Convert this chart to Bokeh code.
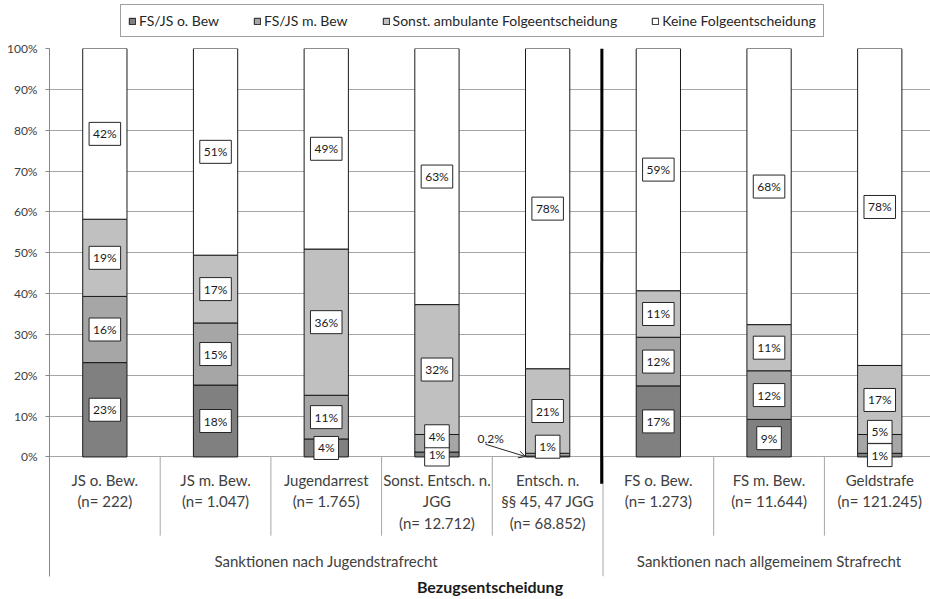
from bokeh.plotting import figure
from bokeh.models import (Range1d, FixedTicker, PrintfTickFormatter, ColumnDataSource,
                          Legend, LegendItem, Arrow, OpenHead)
from bokeh.layouts import column
from bokeh.embed import file_html
from bokeh.resources import INLINE
from bokeh.core.properties import value

# ---------------- data ----------------
categories = ["JS o. Bew.", "JS m. Bew.", "Jugendarrest", "Sonst. Entsch. n.\nJGG",
              "Entsch. n.\n§§ 45, 47 JGG", "FS o. Bew.", "FS m. Bew.", "Geldstrafe"]
n_labels = ["(n= 222)", "(n= 1.047)", "(n= 1.765)", "(n= 12.712)", "(n= 68.852)",
            "(n= 1.273)", "(n= 11.644)", "(n= 121.245)"]
groups = ["Sanktionen nach Jugendstrafrecht", "Sanktionen nach allgemeinem Strafrecht"]
group_sizes = [5, 3]
series = ["FS/JS o. Bew", "FS/JS m. Bew", "Sonst. ambulante Folgeentscheidung",
          "Keine Folgeentscheidung"]
fsjs_o = [23.1, 17.6, 4.4, 1.2, 0.2, 17.4, 9.2, 0.9]
fsjs_m = [16.2, 15.2, 10.7, 4.3, 0.7, 11.9, 11.9, 4.6]
sonst = [18.9, 16.6, 35.8, 31.8, 20.7, 11.4, 11.3, 16.9]
keine = [41.8, 50.6, 49.1, 62.7, 78.4, 59.3, 67.6, 77.6]
y_ticks = [0, 10, 20, 30, 40, 50, 60, 70, 80, 90, 100]
axis_title = "Bezugsentscheidung"

# ---------------- styling ----------------
FONT = "Lato"
TXT = "#404040"
GRID = "#a6a6a6"
colors = ["#808080", "#a6a6a6", "#c0c0c0", "#ffffff"]
label_nudge = {(3, 1): 7, (4, 1): 8, (7, 1): 12}   # labels moved up by hand (px)
callout = (4, 0)                                    # shown with an arrow instead

n = len(categories)
xs = [i + 0.5 for i in range(n)]
series_vals = [fsjs_o, fsjs_m, sonst, keine]
keys = ["s0", "s1", "s2", "s3"]
src = ColumnDataSource(dict(x=xs, s0=fsjs_o, s1=fsjs_m, s2=sonst, s3=keine))

W = 930
LEFT = 49
CAT_PX = 110.7
PLOT_PX = 410          # height of the 0..100 % band
AXIS_PX = 120          # category table under the bars
PXU = PLOT_PX / (y_ticks[-1] - y_ticks[0])
NAN = float("nan")


def below(px):
    return y_ticks[0] - px / PXU


# ---------------- legend strip ----------------
LH = 40
lf = figure(width=W, height=LH, x_range=Range1d(0, 1), y_range=Range1d(0, 1),
            output_backend="svg", toolbar_location=None,
            min_border_left=LEFT, min_border_right=0, min_border_bottom=0, min_border_top=0)
lf.outline_line_color = None
lf.xaxis.visible = False
lf.yaxis.visible = False
lf.grid.visible = False
# legend proxies: same styling as the bars, no drawable data
proxies = [lf.vbar(x=[NAN], bottom=[NAN], top=[NAN], width=0.1, fill_color=c,
                   line_color="#1a1a1a", line_width=1) for c in colors]
legend = Legend(items=[LegendItem(label=s, renderers=[r]) for s, r in zip(series, proxies)],
                orientation="horizontal", location=(71, 3),
                label_text_font=FONT, label_text_font_size="14px", label_text_color="#262626",
                glyph_width=8, glyph_height=8, label_standoff=3, spacing=34,
                padding=7, margin=0, border_line_color="#404040", border_line_width=1,
                background_fill_color="white", background_fill_alpha=1)
lf.add_layout(legend, "center")

# ---------------- main plot incl. category table ----------------
p = figure(width=W, height=PLOT_PX + AXIS_PX + 8 + 20,
           x_range=Range1d(0, (W - LEFT) / CAT_PX),
           y_range=Range1d(below(AXIS_PX), y_ticks[-1]),
           output_backend="svg", toolbar_location=None,
           min_border_left=LEFT, min_border_right=0, min_border_bottom=20, min_border_top=8)
p.outline_line_color = None
p.xgrid.visible = False
p.ygrid.ticker = FixedTicker(ticks=y_ticks)
p.ygrid.grid_line_color = GRID

ax = p.yaxis[0]
ax.ticker = FixedTicker(ticks=y_ticks)
ax.formatter = PrintfTickFormatter(format="%d%%")
ax.minor_tick_line_color = None
ax.major_tick_in = 0
ax.major_tick_out = 4
ax.major_label_standoff = 8
ax.major_label_text_font = FONT
ax.major_label_text_font_size = "12px"
ax.axis_line_color = "#868686"
ax.major_tick_line_color = "#868686"
ax.major_label_text_color = TXT

xa = p.xaxis[0]
xa.ticker = FixedTicker(ticks=[])
xa.axis_line_color = None
xa.major_tick_line_color = None
xa.minor_tick_line_color = None
xa.major_tick_out = 0
xa.major_label_standoff = 0
xa.axis_label = axis_title
xa.axis_label_standoff = 0
xa.axis_label_text_font = FONT
xa.axis_label_text_font_size = "16px"
xa.axis_label_text_font_style = "bold"
xa.axis_label_text_color = "#1a1a1a"

rs = p.vbar_stack(keys, x="x", width=0.4, source=src, fill_color=colors,
                  line_color="#1a1a1a", line_width=1)

# category table: dividers
bounds = [0]
for g in group_sizes:
    bounds.append(bounds[-1] + g)
cat_div = [k for k in range(1, n) if k not in bounds]
p.segment(x0=cat_div, y0=[y_ticks[0]] * len(cat_div), x1=cat_div,
          y1=[below(79)] * len(cat_div), line_color=GRID, line_width=1)
p.segment(x0=bounds[1:], y0=[y_ticks[0]] * (len(bounds) - 1), x1=bounds[1:],
          y1=[below(AXIS_PX)] * (len(bounds) - 1), line_color=GRID, line_width=1)

# thick hand-drawn line between the two groups
gb = group_sizes[0]
p.segment(x0=[gb - 0.01], y0=[y_ticks[-1]], x1=[gb - 0.012], y1=[below(27)],
          line_color="black", line_width=3)

# category labels
tx, ty, tt = [], [], []
for i, (c, nl) in enumerate(zip(categories, n_labels)):
    for k, line in enumerate(c.split("\n") + [nl]):
        tx.append(xs[i])
        ty.append(below(23 + 21.5 * k))
        tt.append(line)
p.text(x="x", y="y", text="t", source=ColumnDataSource(dict(x=tx, y=ty, t=tt)),
       text_align="center", text_baseline="middle", text_font=value(FONT),
       text_font_size="15px", text_color=TXT)
gx = [(bounds[k] + bounds[k + 1]) / 2 for k in range(len(groups))]
p.text(x=gx, y=[below(104)] * len(groups), text=groups, text_align="center",
       text_baseline="middle", text_font=value(FONT), text_font_size="15px", text_color=TXT)

# data labels
lx, ly, lt, lo = [], [], [], []
for i in range(n):
    base = 0.0
    for j, vals in enumerate(series_vals):
        v = vals[i]
        if (i, j) != callout:
            lx.append(xs[i])
            ly.append(base + v / 2)
            lt.append(f"{round(v)}%")
            lo.append(-label_nudge.get((i, j), 0))
        base += v
p.text(x="x", y="y", text="t", y_offset="o",
       source=ColumnDataSource(dict(x=lx, y=ly, t=lt, o=lo)),
       text_align="center", text_baseline="middle", text_font=value(FONT),
       text_font_size="12px", text_color="#1a1a1a",
       background_fill_color="white", border_line_color="#262626",
       border_line_width=1, padding=4)

# callout for the tiny segment
ci, cj = callout
cv = series_vals[cj][ci]
x_end = xs[ci] - 0.2
y_end = cv / 2
x_st = x_end - 0.36
y_st = y_end + 3.0
p.add_layout(Arrow(end=OpenHead(size=7, line_width=1, line_color="#262626"),
                   x_start=x_st, y_start=y_st, x_end=x_end, y_end=y_end,
                   line_color="#262626", line_width=1))
p.text(x=[x_st + 0.045], y=[y_st + 1.4], text=[f"{cv:.1f}%".replace(".", ",")],
       text_align="center", text_baseline="middle", text_font=value(FONT),
       text_font_size="12px", text_color="#262626")

layout = column(lf, p, spacing=0)
open("out.html", "w").write(file_html(layout, INLINE))
